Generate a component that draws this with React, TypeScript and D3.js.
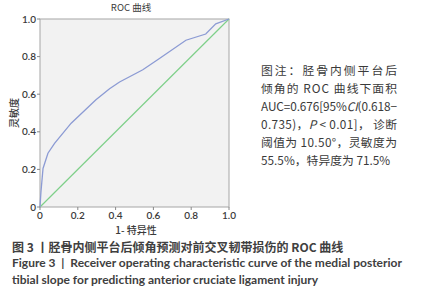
import React from "react";
import * as d3 from "d3";

const rocFpr = [0, 0.005, 0.016, 0.042, 0.077, 0.165, 0.296, 0.368, 0.421, 0.544, 0.632, 0.772, 0.877, 0.93, 1];
const rocTpr = [0, 0.08, 0.205, 0.286, 0.339, 0.446, 0.57, 0.629, 0.665, 0.73, 0.79, 0.887, 0.92, 0.974, 1];
const refLine = [0, 1];
const tickValues = [0, 0.2, 0.4, 0.6, 0.8, 1.0];
const tickLabels = ["0", "0.2", "0.4", "0.6", "0.8", "1.0"];

const latin = "Lato, 'Noto Sans CJK SC', sans-serif";
const cjk = "'Noto Sans CJK SC', Lato, sans-serif";

export default function App() {
  const left = 40, right = 229, top = 19, bottom = 207;
  const x = d3.scaleLinear().domain([0, 1]).range([left, right]);
  const y = d3.scaleLinear().domain([0, 1]).range([bottom, top]);
  const line = d3.line<[number, number]>().x(d => x(d[0])).y(d => y(d[1]));
  const rocPts: [number, number][] = rocFpr.map((f, i) => [f, rocTpr[i]]);
  const refPts: [number, number][] = refLine.map(v => [v, v]);
  const textColor = "#3a3a3a";
  const annX = 261, annW = 136;
  const annY = [71, 89, 107, 125, 143, 161];
  return (
    <svg width={426} height={300} style={{ position: "absolute", left: 0, top: 0 }}>
      <rect x={0} y={0} width={426} height={300} fill="#ffffff" />
      <text x={131} y={11} textAnchor="middle" fontSize={9.5} fontFamily={cjk} fill={textColor}>ROC 曲线</text>
      <rect x={left} y={top} width={right - left} height={bottom - top} fill="#f2f2f2" stroke="#a6a6a6" strokeWidth={1} />
      <path d={line(refPts) || ""} fill="none" stroke="#7fd08a" strokeWidth={1.2} />
      <path d={line(rocPts) || ""} fill="none" stroke="#8c9bd4" strokeWidth={1.3} />
      {tickValues.map((t, i) => (
        <g key={"x" + i}>
          <line x1={x(t)} x2={x(t)} y1={bottom} y2={bottom + 3} stroke="#888" />
          <text x={x(t)} y={219} textAnchor="middle" fontSize={10} fontWeight={600} fontFamily={latin} fill={textColor}>{tickLabels[i]}</text>
        </g>
      ))}
      {tickValues.map((t, i) => (
        <g key={"y" + i}>
          <line x1={left - 3} x2={left} y1={y(t)} y2={y(t)} stroke="#888" />
          <text x={36} y={y(t) + 3.5} textAnchor="end" fontSize={10} fontWeight={600} fontFamily={latin} fill={textColor}>{tickLabels[i]}</text>
        </g>
      ))}
      <text x={136} y={234} textAnchor="middle" fontSize={10} fontWeight={500} fontFamily={cjk} fill={textColor}>1- 特异性</text>
      <text transform={`translate(18,${113}) rotate(-90)`} textAnchor="middle" fontSize={10} fontWeight={500} fontFamily={cjk} fill={textColor}>灵敏度</text>

      <g fontSize={11.8} fontFamily={cjk} fill={textColor}>
        <text x={annX} y={annY[0] + 4} textLength={annW} lengthAdjust="spacing">图注：胫骨内侧平台后</text>
        <text x={annX} y={annY[1] + 4} textLength={annW} lengthAdjust="spacing">倾角的 ROC 曲线下面积</text>
        <text x={annX} y={annY[2] + 4} textLength={annW} lengthAdjust="spacing">AUC=0.676[95%<tspan fontStyle="italic">CI</tspan>(0.618−</text>
        <text x={annX} y={annY[3] + 4} textLength={annW} lengthAdjust="spacing">0.735)，<tspan fontStyle="italic">P</tspan> &lt; 0.01]， 诊断</text>
        <text x={annX} y={annY[4] + 4} textLength={annW} lengthAdjust="spacing">阈值为 10.50°，灵敏度为</text>
        <text x={annX} y={annY[5] + 4}>55.5%，特异度为 71.5%</text>
      </g>

      <g fontFamily={cjk} fill="#404040" fontWeight={700} fontSize={12}>
        <text x={12} y={252}>图 3 丨胫骨内侧平台后倾角预测对前交叉韧带损伤的 ROC 曲线</text>
        <text x={12} y={267} fontFamily={latin}>{"Figure 3\u00a0\u00a0|\u00a0\u00a0Receiver operating characteristic curve of the medial posterior"}</text>
        <text x={12} y={284} fontFamily={latin}>tibial slope for predicting anterior cruciate ligament injury</text>
      </g>
    </svg>
  );
}
